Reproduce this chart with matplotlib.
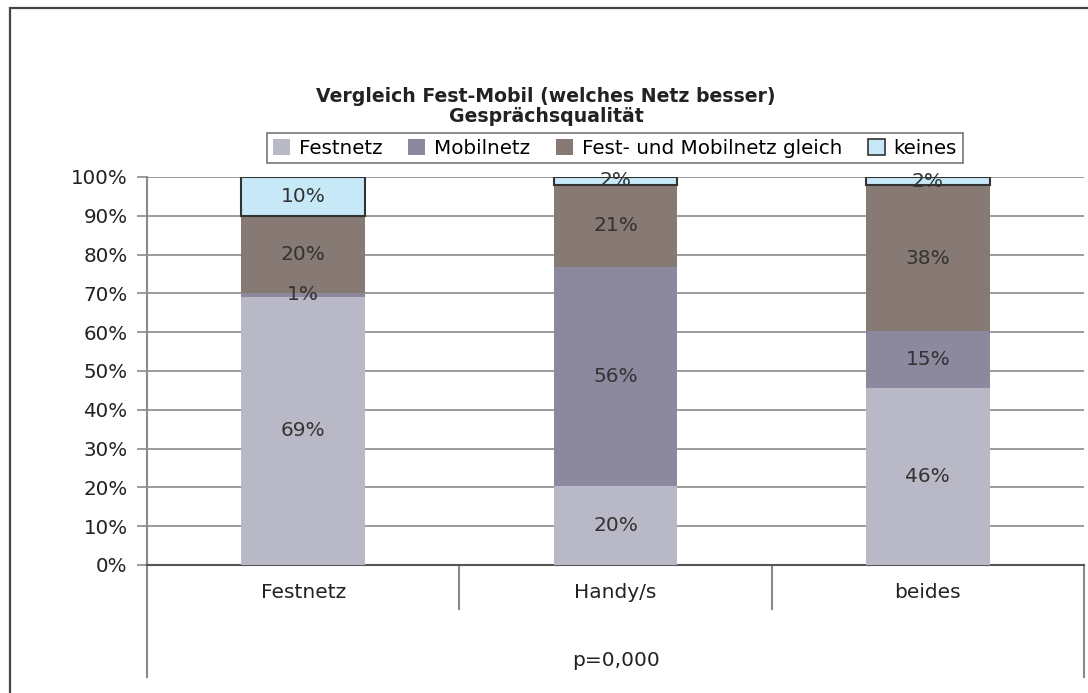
import numpy as np
import matplotlib.pyplot as plt
from matplotlib.patches import Rectangle, Patch

plt.rcParams['font.family'] = ['DejaVu Sans']

# Data (percent of respondents)
categories = ['Festnetz', 'Handy/s', 'beides']
series_names = ['Festnetz', 'Mobilnetz', 'Fest- und Mobilnetz gleich', 'keines']
festnetz = [69.1, 20.4, 45.6]
mobilnetz = [1.0, 56.4, 14.7]
gleich = [19.9, 21.2, 37.6]
keines = [10.0, 2.0, 2.1]
shown_labels = [
    ['69%', '20%', '46%'],
    ['1%', '56%', '15%'],
    ['20%', '21%', '38%'],
    ['10%', '2%', '2%'],
]
colors = ['#b8b8c6', '#8c899f', '#877973', '#c6e8f7']

fig = plt.figure(figsize=(10.88, 6.93), dpi=100)
ax = fig.add_axes([147 / 1088, 1 - 565 / 693, (1084 - 147) / 1088, (565 - 177) / 693])

# outer chart frame
fig.patches.append(Rectangle((10 / 1088, -0.1), 1.2, (693 - 8) / 693 + 0.1,
                             transform=fig.transFigure, fill=False,
                             edgecolor='#444444', linewidth=1.6))

x = np.arange(len(categories))
width = 0.395
bottom = np.zeros(len(categories))
for i, vals in enumerate([festnetz, mobilnetz, gleich, keines]):
    vals = np.array(vals)
    if i == 3:
        ax.bar(x, vals, width, bottom=bottom, color=colors[i],
               edgecolor='#333333', linewidth=1.5, zorder=3)
    else:
        ax.bar(x, vals, width, bottom=bottom, color=colors[i],
               linewidth=0, zorder=3)
    for j in range(len(categories)):
        ax.text(x[j], bottom[j] + vals[j] / 2, shown_labels[i][j],
                ha='center', va='center', fontsize=14.5, color='#333333', zorder=4)
    bottom += vals

ax.set_xlim(-0.5, 2.5)
ax.set_ylim(0, 100)
ax.set_yticks(np.arange(0, 101, 10))
ax.set_yticklabels([f'{v}%' for v in range(0, 101, 10)], fontsize=14.3, color='#222222')
ax.yaxis.grid(True, color='#8a8a8a', linewidth=1.2, zorder=0)
ax.set_axisbelow(True)
ax.tick_params(axis='y', length=7, width=1.2, color='#8a8a8a', pad=7)
ax.set_xticks([])
for s in ['top', 'right']:
    ax.spines[s].set_visible(False)
ax.spines['left'].set_color('#8a8a8a')
ax.spines['left'].set_linewidth(1.5)
ax.spines['bottom'].set_color('#555555')
ax.spines['bottom'].set_linewidth(1.5)

# category axis table below the plot
sep_depth = -(609 - 565) / 388
outer_depth = -(677 - 565) / 388
for xs in [0.5, 1.5]:
    ax.plot([xs, xs], [0, sep_depth * 100], color='#8a8a8a', lw=1.5,
            clip_on=False)
for xs in [-0.5, 2.5]:
    ax.plot([xs, xs], [0, outer_depth * 100], color='#8a8a8a', lw=1.5,
            clip_on=False)
for j, c in enumerate(categories):
    ax.text(x[j], -27 / 388 * 100, c, ha='center', va='center',
            fontsize=14.5, color='#222222')
ax.text(1, -96 / 388 * 100, 'p=0,000', ha='center', va='center',
        fontsize=14.5, color='#222222')

fig.text(546 / 1088, 1 - 96 / 693, 'Vergleich Fest-Mobil (welches Netz besser)',
         ha='center', va='center', fontsize=13.6, fontweight='bold', color='#222222')
fig.text(546 / 1088, 1 - 117 / 693, 'Gesprächsqualität',
         ha='center', va='center', fontsize=13.6, fontweight='bold', color='#222222')

handles = [Patch(facecolor=colors[i], edgecolor='none') for i in range(3)]
handles.append(Patch(facecolor=colors[3], edgecolor='#333333', linewidth=1.2))
leg = fig.legend(handles, series_names, loc='center', ncol=4,
                 bbox_to_anchor=(615 / 1088, 1 - 148 / 693),
                 fontsize=14.3, frameon=True, fancybox=False,
                 handlelength=0.85, handleheight=0.85, handletextpad=0.45,
                 columnspacing=1.3, borderpad=0.3, borderaxespad=0)
leg.get_frame().set_edgecolor('#555555')
leg.get_frame().set_linewidth(1.2)

fig.savefig('out.png', dpi=100)
